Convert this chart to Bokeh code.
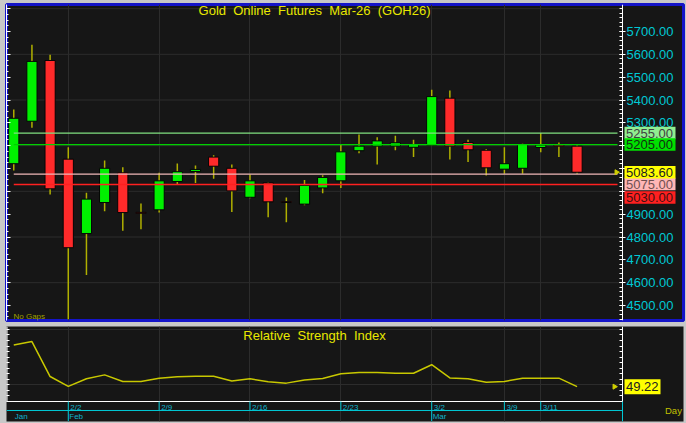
import numpy as np
import pandas as pd
from bokeh.plotting import figure
from bokeh.models import (ColumnDataSource, Range1d, LinearAxis, FixedTicker, NumeralTickFormatter,
                          CustomJSTickFormatter, Label)
from bokeh.layouts import column
from bokeh.embed import file_html
from bokeh.resources import INLINE
from bokeh.core.properties import value

# ---------------- data ----------------
dates = ["1/28", "1/29", "1/30", "2/2", "2/3", "2/4", "2/5", "2/6", "2/9", "2/10", "2/11", "2/12", "2/13",
         "2/16", "2/17", "2/18", "2/19", "2/20", "2/23", "2/24", "2/25", "2/26", "2/27",
         "3/2", "3/3", "3/4", "3/5", "3/9", "3/10", "3/11", "3/12", "3/13"]
opens = [5121, 5307, 5573, 5141, 4815, 4951, 5081, 4908, 4919, 5043, 5087, 5150, 5101, 4974, 5037, 4955,
         4944, 5015, 5046, 5178, 5198, 5198, 5193, 5202, 5408, 5214, 5180, 5097, 5101, 5192, 5203, 5198]
highs = [5358, 5642, 5598, 5193, 4994, 5135, 5106, 4947, 5081, 5122, 5113, 5158, 5117, 5074, 5040, 4973,
         5050, 5071, 5205, 5249, 5237, 5244, 5226, 5445, 5442, 5226, 5185, 5193, 5208, 5255, 5214, 5202]
lows = [5091, 5278, 4986, 4440, 4634, 4913, 4827, 4834, 4907, 5030, 5036, 5055, 4910, 4970, 4887, 4865,
        4939, 4992, 5015, 5167, 5118, 5180, 5150, 5200, 5139, 5128, 5069, 5077, 5077, 5171, 5150, 5077]
closes = [5320, 5569, 5011, 4753, 4966, 5101, 4907, 4904, 5046, 5086, 5096, 5110, 5002, 5046, 4954, 4951,
          5026, 5061, 5173, 5198, 5221, 5213, 5205, 5415, 5198, 5182, 5103, 5121, 5205, 5203, 5198, 5083.6]
rsi = [64.4, 65.6, 52.9, 49.3, 52.1, 53.5, 51.1, 51.1, 52.3, 52.8, 53.0, 53.0, 51.3, 52.1, 51.0, 50.5,
       51.6, 52.2, 53.9, 54.4, 54.4, 54.1, 54.1, 57.2, 52.4, 52.1, 50.8, 51.1, 52.3, 52.3, 52.3, 49.22]
tick_labels = ["2/2", "2/9", "2/16", "2/23", "3/2", "3/9", "3/11"]
month_labels = ["Jan", "Feb", "Mar"]
month_prefix = ["1/", "2/", "3/"]
levels = [5255.0, 5205.0, 5075.0, 5030.0]
price_ticks = list(range(4500, 5701, 100))
price_grid = list(range(4600, 5801, 200))
rsi_grid = [50, 70]
NB = " \u00a0"
title_text = NB.join(["Gold", "Online", "Futures", "Mar-26", "(GOH26)"])
rsi_title = NB.join(["Relative", "Strength", "Index"])

# ---------------- layout / style ----------------
W, H1, H2, GAP = 686, 322, 98, 3
BL, BR, T1, B1, T2, B2 = 6, 3, 4, 2, 1, 2
FW = W - BL - BR                # frame width (plot area + price-label area)
PLOT_W = 616                    # pixels from frame left to the price axis
FH1 = H1 - T1 - B1
FH2 = H2 - T2 - B2
X0, X_AX = -0.4, 33.5
K = (X_AX - X0) / PLOT_W
XEND = X0 + FW * K
Y0, Y1 = 4434.3, 5818.3
R0, R1 = 36.55, 71.09
RSI_FLOOR, DATE_LINE = 43.82, 40.55
FONT = "Liberation Sans"
BG, EDGE = "#161616", "#c8c8c8"
CYAN, DATE_CYAN, YEL, OLIVE, GRID = "#00c8d4", "#10b4cc", "#e8e800", "#b0b000", "#2c2c2c"


def px_x(px):
    return X0 + (px - BL) * K


def py_y(py):
    return Y1 - (py - T1) / FH1 * (Y1 - Y0)


def py_r(py):
    return R1 - (py - T2) / FH2 * (R1 - R0)


def y_py(v):
    return T1 + (Y1 - v) / (Y1 - Y0) * FH1


idx = list(range(len(dates)))
tick_idx = [dates.index(t) for t in tick_labels]
month_idx = [next(i for i, d in enumerate(dates) if d.startswith(m)) for m in month_prefix]

df = pd.DataFrame(dict(x=idx, o=opens, h=highs, l=lows, c=closes))
df["top"] = df[["o", "c"]].max(axis=1)
df["bottom"] = df[["o", "c"]].min(axis=1)
df["color"] = np.where(df["c"] >= df["o"], "#00f000", "#ff2a2a")
src = ColumnDataSource(df)

xr = Range1d(X0, XEND)

# ---------------- main price panel ----------------
p = figure(width=W, height=H1, x_range=xr, y_range=Range1d(Y0, Y1), output_backend="svg",
           toolbar_location=None, x_axis_location=None, y_axis_location=None,
           min_border_left=BL, min_border_right=BR, min_border_top=T1, min_border_bottom=B1,
           background_fill_color=BG, border_fill_color=EDGE,
           outline_line_color="#1414c8", outline_line_width=3)

ax = LinearAxis(fixed_location=X_AX,
                ticker=FixedTicker(ticks=price_ticks, minor_ticks=list(range(4440, 5820, 20))),
                formatter=NumeralTickFormatter(format="0.00"),
                major_label_overrides={5200: "", 5100: "", 5000: ""},
                major_label_text_color=CYAN, major_label_text_font=FONT, major_label_text_font_size="13px",
                axis_line_color="white", major_tick_line_color="white", minor_tick_line_color="white",
                major_tick_in=3, major_tick_out=3, minor_tick_in=3, minor_tick_out=0, major_label_standoff=1)
p.add_layout(ax, "right")

la = LinearAxis(ticker=FixedTicker(ticks=list(range(4500, 5801, 100)), minor_ticks=list(range(4450, 5801, 25))),
                formatter=CustomJSTickFormatter(code="return '';"),
                axis_line_color="white", major_tick_line_color="white", minor_tick_line_color="white",
                major_tick_in=4, major_tick_out=0, minor_tick_in=2, minor_tick_out=0, major_label_standoff=0)
p.add_layout(la, "left")

p.xgrid.ticker = FixedTicker(ticks=tick_idx)
p.xgrid.grid_line_color = GRID
p.ygrid.visible = False
p.segment(x0=X0, y0=price_grid, x1=X_AX, y1=price_grid, line_color=GRID, line_width=1)

p.segment(x0="x", y0="h", x1="x", y1="l", source=src, line_color=OLIVE, line_width=1.5)
p.vbar(x="x", width=0.56, top="top", bottom="bottom", fill_color="color", line_color="#050505",
       line_width=1, source=src)

level_colors = ["#80e080", "#00d000", "#f0b8b8", "#ff2020"]
p.segment(x0=idx[0], y0=levels, x1=px_x(617), y1=levels, line_color=level_colors, line_width=1.3)
p.scatter(x=[px_x(616)], y=[closes[-1]], marker="triangle", angle=-np.pi / 2, size=5,
          fill_color="#d0d000", line_color="#d0d000")

box_vals = [levels[0], levels[1], levels[3], levels[2], closes[-1]]
box_bg = ["#90ee90", "#00e000", "#ff2020", "#ffb6b6", "#ffff00"]
box_tc = ["#404040", "#103010", "#401010", "#705050", "#202020"]
box_shift = [0, 0, 13, 9.8, 0]
box_y = [py_y(y_py(v) + s) for v, s in zip(box_vals, box_shift)]
p.rect(x=px_x(649.5), y=box_y, width=51, height=12.5, width_units="screen", height_units="screen",
       fill_color=box_bg, line_color=None, level="overlay")
p.text(x=px_x(625.5), y=box_y, text=[f"{v:.2f}" for v in box_vals], text_color=box_tc,
       text_align="left", text_baseline="middle", text_font=value(FONT), text_font_size="13px",
       level="overlay")

p.add_layout(Label(x=(X0 + X_AX) / 2, y=py_y(2.5), text=title_text, text_align="center", text_baseline="top",
                   text_font=FONT, text_font_size="13px", text_color=YEL))
p.add_layout(Label(x=px_x(13), y=Y0, text="No Gaps", text_align="left", text_baseline="bottom",
                   text_font=FONT, text_font_size="8px", text_color="#a0a000"))

# ---------------- RSI panel ----------------
r = figure(width=W, height=H2, x_range=xr, y_range=Range1d(R0, R1), output_backend="svg",
           toolbar_location=None, x_axis_location=None, y_axis_location=None,
           min_border_left=BL, min_border_right=BR, min_border_top=T2, min_border_bottom=B2,
           background_fill_color=BG, border_fill_color=EDGE, outline_line_color=None)

rticks = list(range(44, 71, 2))
rax = LinearAxis(fixed_location=X_AX, ticker=FixedTicker(ticks=rticks),
                 formatter=CustomJSTickFormatter(code="return '';"),
                 axis_line_color=None, major_tick_line_color="white", minor_tick_line_color=None,
                 major_tick_in=3, major_tick_out=0, major_label_standoff=0)
r.add_layout(rax, "right")
rla = LinearAxis(ticker=FixedTicker(ticks=rticks), formatter=CustomJSTickFormatter(code="return '';"),
                 axis_line_color=None, major_tick_line_color="white", minor_tick_line_color=None,
                 major_tick_in=3, major_tick_out=0, major_label_standoff=0)
r.add_layout(rla, "left")

r.xgrid.ticker = FixedTicker(ticks=tick_idx)
r.xgrid.grid_line_color = GRID
r.ygrid.visible = False
r.segment(x0=X0, y0=rsi_grid, x1=X_AX, y1=rsi_grid, line_color=GRID, line_width=1)

r.line(idx, rsi, line_color="#c8c800", line_width=1.5)

# panel frame lines and date band
r.segment(x0=[X0, X0, X_AX], y0=[RSI_FLOOR, RSI_FLOOR, RSI_FLOOR], x1=[X_AX, X0, X_AX], y1=[RSI_FLOOR, R1, R1],
          line_color="white", line_width=[1, 2, 1])
r.segment(x0=[X0, X_AX], y0=[DATE_LINE, R0], x1=[X_AX, X_AX], y1=[DATE_LINE, RSI_FLOOR],
          line_color=CYAN, line_width=1)
r.segment(x0=tick_idx, y0=RSI_FLOOR, x1=tick_idx, y1=DATE_LINE, line_color=CYAN, line_width=1)
r.segment(x0=month_idx[1:], y0=DATE_LINE, x1=month_idx[1:], y1=R0, line_color=CYAN, line_width=1)

r.text(x=tick_idx, y=RSI_FLOOR, text=tick_labels, x_offset=2, y_offset=1,
       text_align="left", text_baseline="top", text_font=value(FONT), text_font_size="8px",
       text_color=DATE_CYAN)
r.text(x=month_idx, y=DATE_LINE, text=month_labels, x_offset=1, y_offset=2,
       text_align="left", text_baseline="top", text_font=value(FONT), text_font_size="8px",
       text_color=DATE_CYAN)

r.scatter(x=[px_x(614)], y=[rsi[-1]], marker="triangle", angle=-np.pi / 2, size=5,
          fill_color="#d0d000", line_color="#d0d000")
r.rect(x=px_x(642), y=[rsi[-1]], width=36, height=15, width_units="screen", height_units="screen",
       fill_color="#ffff00", line_color=None, level="overlay")
r.text(x=px_x(625.5), y=[rsi[-1]], text=[f"{rsi[-1]:.2f}"], text_color="#202020",
       text_align="left", text_baseline="middle", text_font=value(FONT), text_font_size="13px",
       level="overlay")
r.text(x=px_x(664.5), y=[DATE_LINE], text=["Day"], text_color="#c0c000", text_align="left",
       text_baseline="middle", text_font=value(FONT), text_font_size="9.5px")
r.add_layout(Label(x=(X0 + X_AX) / 2, y=py_r(2.5), text=rsi_title, text_align="center", text_baseline="top",
                   text_font=FONT, text_font_size="13px", text_color=YEL))

layout = column(p, r, spacing=GAP, styles={"background-color": EDGE})

open("out.html", "w").write(file_html(layout, INLINE))
